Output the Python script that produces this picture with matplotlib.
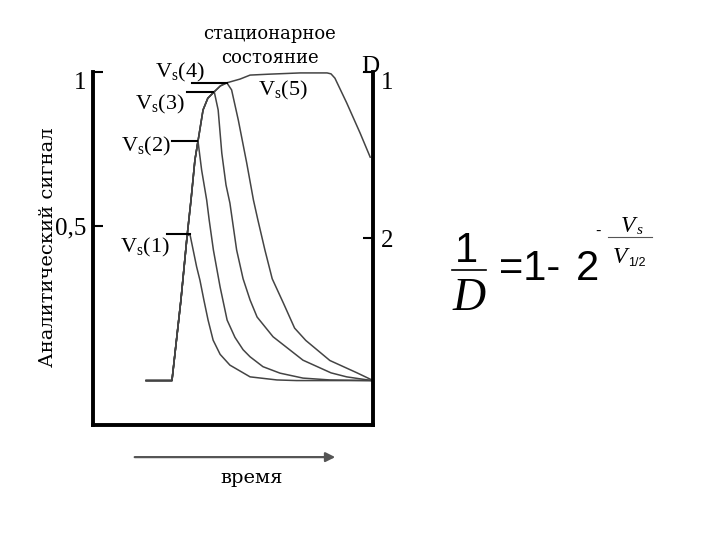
import matplotlib.pyplot as plt
from matplotlib.lines import Line2D

plt.rcParams['mathtext.fontset'] = 'custom'
plt.rcParams['mathtext.rm'] = 'Liberation Serif'
plt.rcParams['mathtext.it'] = 'Liberation Serif:italic'

# time (arbitrary units 0..10) and analytical signal (0..1)
# common rising front + plateau of the steady-state curve Vs(5)
env_t = [1.9, 2.82, 3.14, 3.36, 3.50, 3.64, 3.75, 3.93, 4.10, 4.33, 4.55, 4.78,
         5.25, 5.61, 6.3, 7.4, 8.36, 8.5, 8.64, 9.06, 9.54, 9.9]
env_s = [0.0, 0.0, 0.261, 0.468, 0.585, 0.715, 0.776, 0.877, 0.915, 0.936, 0.955, 0.965,
         0.977, 0.99, 0.993, 0.997, 0.997, 0.994, 0.98, 0.90, 0.802, 0.724]

# decay branches, each leaves the front after `split` points
split = [4, 7, 10, 12]
decay_t = [
    [3.46, 3.70, 3.82, 3.96, 4.11, 4.29, 4.54, 4.89, 5.61, 6.57, 7.27, 8.2, 9.96],
    [3.88, 4.06, 4.15, 4.30, 4.54, 4.79, 5.07, 5.36, 5.61, 6.07, 6.68, 7.5, 8.46, 9.96],
    [4.47, 4.60, 4.75, 4.89, 5.13, 5.36, 5.61, 5.86, 6.43, 7.5, 8.5, 9.06, 9.96],
    [4.95, 5.19, 5.49, 5.73, 5.89, 6.14, 6.40, 6.80, 7.2, 7.6, 8.46, 9.43, 9.96],
]
decay_s = [
    [0.475, 0.369, 0.325, 0.261, 0.196, 0.131, 0.085, 0.050, 0.012, 0.002, 0.0, 0.0, 0.0],
    [0.682, 0.585, 0.520, 0.423, 0.303, 0.196, 0.14, 0.10, 0.077, 0.045, 0.024, 0.008, 0.002, 0.0],
    [0.877, 0.737, 0.634, 0.575, 0.423, 0.33, 0.261, 0.206, 0.142, 0.066, 0.025, 0.012, 0.0],
    [0.942, 0.844, 0.705, 0.585, 0.520, 0.423, 0.33, 0.251, 0.17, 0.13, 0.065, 0.025, 0.002],
]

# peaks Vs(1)..Vs(4) and where their pointer lines start
peak_t = [3.46, 3.73, 4.29, 4.78]
peak_s = [0.475, 0.776, 0.935, 0.963]
pointer_t0 = [2.64, 2.81, 3.35, 3.53]

left_ticks = [0.5, 1.0]
left_labels = ['0,5', '1']
right_ticks = [0.462, 1.0]
right_labels = ['2', '1']

fig = plt.figure(figsize=(7.2, 5.4), dpi=100)
ax = fig.add_axes([93 / 720, 115 / 540, 280 / 720, 353 / 540])
ax.set_xlim(0, 10)
ax.set_ylim(-0.144, 1.0)

curve_col = '#444444'
for k, dt, ds in zip(split, decay_t, decay_s):
    ax.plot(env_t[:k] + dt, env_s[:k] + ds, color=curve_col, lw=1.1,
            solid_joinstyle='round', clip_on=False)
ax.plot(env_t, env_s, color=curve_col, lw=1.1, solid_joinstyle='round', clip_on=False)

for t0, tp, sp in zip(pointer_t0, peak_t, peak_s):
    ax.plot([t0, tp], [sp, sp], color='black', lw=1.5, clip_on=False)

for side in ['left', 'bottom', 'right']:
    ax.spines[side].set_linewidth(2.8)
ax.spines['top'].set_visible(False)
ax.set_xticks([])

serif = 'Liberation Serif'
courier = 'DejaVu Serif'

ax.set_yticks(left_ticks, left_labels, fontfamily=serif, fontsize=18)
ax.tick_params(axis='y', direction='in', length=7, width=1.5, pad=5)
ax.yaxis.get_major_ticks()[0].tick1line.set_color('#aaaaaa')
ax.get_yticklabels()[1].set_va('top')

ax2 = ax.twinx()
ax2.set_ylim(ax.get_ylim())
for side in ['left', 'bottom', 'top', 'right']:
    ax2.spines[side].set_visible(False)
ax2.set_yticks(right_ticks, right_labels, fontfamily=serif, fontsize=18)
ax2.tick_params(axis='y', direction='in', length=7, width=1.5, pad=6)
ax2.yaxis.get_major_ticks()[0].tick2line.set_color('#999999')
ax2.get_yticklabels()[1].set_va('top')

ax.set_ylabel('Аналитический сигнал', fontfamily=courier, fontsize=14)
ax.yaxis.set_label_coords(-0.129, 0.504)

# Vs labels
vs_text = [r'$\mathrm{V_s}$(1)', r'$\mathrm{V_s}$(2)', r'$\mathrm{V_s}$(3)',
           r'$\mathrm{V_s}$(4)', r'$\mathrm{V_s}$(5)']
vs_pos = [(0.186, 0.504), (0.189, 0.790), (0.239, 0.909), (0.311, 1.0), (0.679, 0.949)]
for s, (x, y) in zip(vs_text, vs_pos):
    ax.text(x, y, s, transform=ax.transAxes, ha='center', va='center',
            fontfamily=serif, fontsize=16)

ax.text(0.632, 1.108, 'стационарное', transform=ax.transAxes, ha='center',
        va='center', fontfamily=courier, fontsize=13)
ax.text(0.632, 1.040, 'состояние', transform=ax.transAxes, ha='center',
        va='center', fontfamily=courier, fontsize=13)
ax.text(0.989, 1.014, 'D', transform=ax.transAxes, ha='center', va='center',
        fontfamily=serif, fontsize=18)

# time arrow
ax.annotate('', xy=(0.875, -0.091), xytext=(0.139, -0.091),
            xycoords='axes fraction',
            arrowprops=dict(arrowstyle='-|>', color='#555555', lw=1.6,
                            mutation_scale=14))
ax.text(0.568, -0.150, 'время', transform=ax.transAxes, ha='center',
        va='center', fontfamily=courier, fontsize=14)


def px(x, y):
    return x / 720, 1 - y / 540


# formula 1/D = 1 - 2^(-Vs/V1/2)
sans = 'Liberation Sans'
fig.text(*px(466, 262), '1', ha='center', va='baseline', fontfamily=sans, fontsize=30)
fig.add_artist(Line2D([452 / 720, 486 / 720], [1 - 270 / 540] * 2, color='black', lw=1.2))
fig.text(*px(469, 310), 'D', ha='center', va='baseline', fontfamily=serif,
         style='italic', fontsize=33)
fig.text(*px(499, 280), '=1-', ha='left', va='baseline', fontfamily=sans, fontsize=30)
fig.text(*px(576, 280), '2', ha='left', va='baseline', fontfamily=sans, fontsize=30)
fig.text(*px(598, 236), '-', ha='center', va='baseline', fontfamily=sans, fontsize=12)
fig.add_artist(Line2D([608 / 720, 652 / 720], [1 - 237 / 540] * 2, color='#555555', lw=0.8))
fig.text(*px(628, 232), 'V', ha='center', va='baseline', fontfamily=serif,
         style='italic', fontsize=17)
fig.text(*px(640, 234), 's', ha='center', va='baseline', fontfamily=serif,
         style='italic', fontsize=11)
fig.text(*px(620, 263), 'V', ha='center', va='baseline', fontfamily=serif,
         style='italic', fontsize=17)
fig.text(*px(628, 266), '1/2', ha='left', va='baseline', fontfamily=sans, fontsize=9)

fig.savefig('out.png', dpi=100, facecolor='white')
